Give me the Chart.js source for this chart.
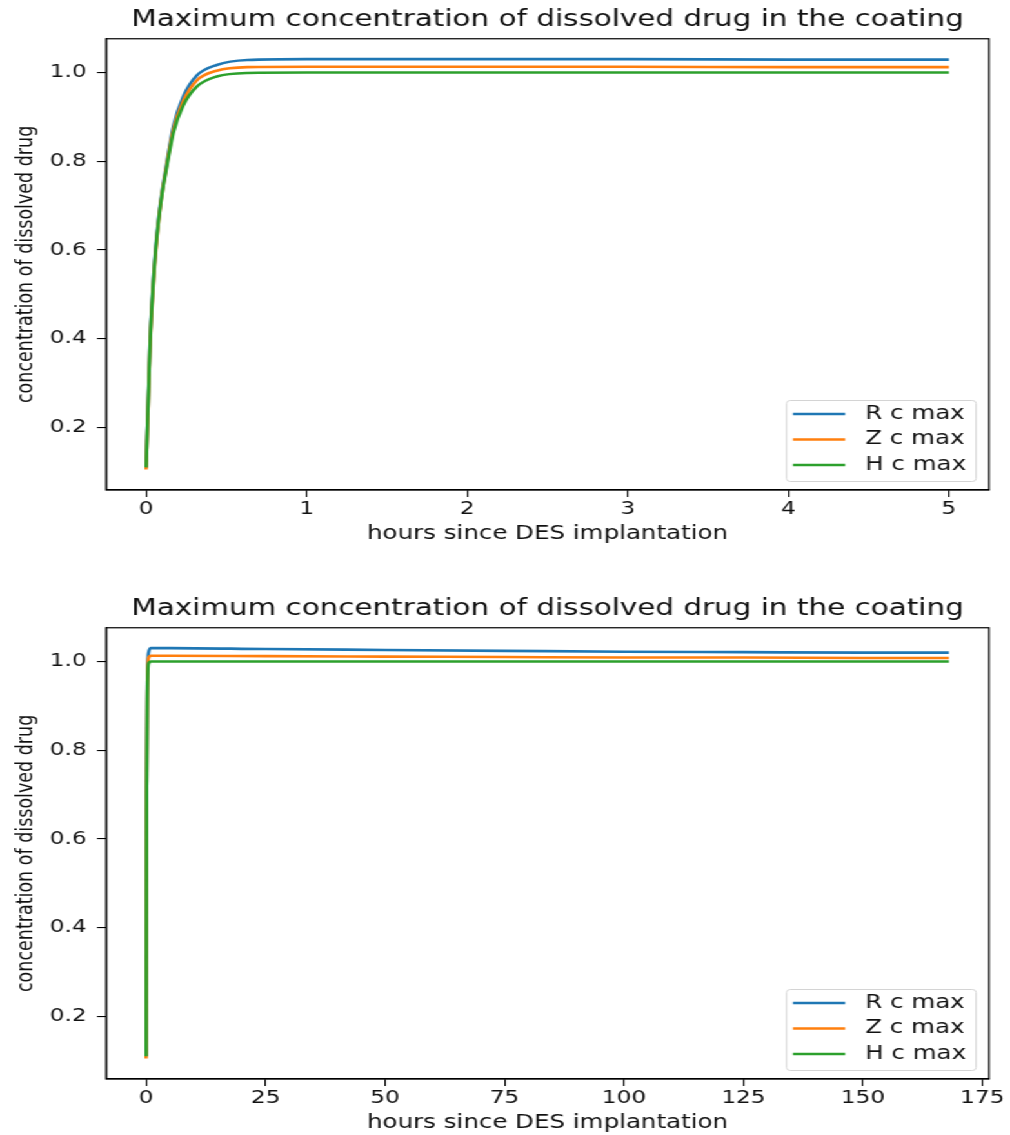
<!DOCTYPE html>
<html>
<head>
<meta charset="utf-8">
<script src="https://cdn.jsdelivr.net/npm/chart.js@4.4.1/dist/chart.umd.min.js"></script>
<style>
  body { margin: 0; background: #fff; }
  /* the reference figure is stretched sideways, so draw narrow and stretch */
  #wrap { width: 783px; height: 1135px; transform: scaleX(1.29); transform-origin: 0 0; }
  canvas { display: block; }
</style>
</head>
<body>
<div id="wrap">
  <canvas id="shortChart" width="783" height="565"></canvas>
  <canvas id="longChart" width="783" height="570"></canvas>
</div>
<script>
// first 5 hours
var hoursShort = [0, 0.025, 0.056, 0.087, 0.13, 0.17, 0.23, 0.315, 0.44, 0.63, 1.0, 2, 3, 4, 5]
var rShort = [0.11, 0.40, 0.59, 0.70, 0.80, 0.88, 0.945, 0.993, 1.017, 1.028, 1.03, 1.03, 1.03, 1.029, 1.029]
var zShort = [0.105, 0.39, 0.58, 0.695, 0.795, 0.872, 0.935, 0.982, 1.004, 1.012, 1.013, 1.013, 1.013, 1.012, 1.012]
var hShort = [0.11, 0.395, 0.585, 0.695, 0.79, 0.865, 0.925, 0.968, 0.991, 0.999, 1.0, 1.0, 1.0, 1.0, 1.0]

// whole week
var hoursLong = [0, 0.1, 0.25, 0.5, 1, 5, 25, 50, 75, 100, 125, 150, 168]
var rLong = [0.11, 0.70, 0.95, 1.02, 1.03, 1.03, 1.028, 1.026, 1.024, 1.022, 1.021, 1.02, 1.02]
var zLong = [0.105, 0.695, 0.94, 1.008, 1.013, 1.013, 1.012, 1.011, 1.01, 1.009, 1.009, 1.008, 1.008]
var hLong = [0.11, 0.695, 0.93, 0.995, 1.0, 1.0, 1.0, 1.0, 1.0, 1.0, 1.0, 1.0, 1.0]

var xTicksShort = [0, 1, 2, 3, 4, 5]
var xTicksLong = [0, 25, 50, 75, 100, 125, 150, 175]
var yTicks = [0.2, 0.4, 0.6, 0.8, 1.0]
var seriesNames = ['R c max', 'Z c max', 'H c max']
var seriesColors = ['#1f77b4', '#ff7f0e', '#2ca02c']

var titleText = 'Maximum concentration of dissolved drug in the coating'
var xTitle = 'hours since DES implantation'
var yTitle = 'concentration of dissolved drug'

Chart.defaults.font.family = "'DejaVu Sans', sans-serif"
Chart.defaults.color = '#111'

// matplotlib style box around the axes
var frame = {
  id: 'frame',
  afterDatasetsDraw(chart) {
    var a = chart.chartArea
    var ctx = chart.ctx
    ctx.save()
    ctx.strokeStyle = '#000'
    ctx.lineWidth = 1.2
    ctx.strokeRect(a.left, a.top, a.right - a.left, a.bottom - a.top)
    ctx.restore()
  },
}

// legend inside the lower right corner
var boxLegend = {
  id: 'boxLegend',
  afterDraw(chart) {
    var a = chart.chartArea
    var ctx = chart.ctx
    var w = 147, h = 81
    var x = a.right - 10 - w
    var y = a.bottom - 8.5 - h
    ctx.save()
    ctx.beginPath()
    ctx.roundRect(x, y, w, h, 3)
    ctx.fillStyle = 'rgba(255,255,255,0.8)'
    ctx.fill()
    ctx.strokeStyle = '#d4d4d4'
    ctx.lineWidth = 1
    ctx.stroke()
    ctx.font = "19px 'DejaVu Sans'"
    ctx.textBaseline = 'middle'
    chart.data.datasets.forEach(function (ds, i) {
      var cy = y + 13.5 + i * 25.5
      ctx.strokeStyle = ds.borderColor
      ctx.lineWidth = 2.6
      ctx.beginPath()
      ctx.moveTo(x + 5, cy)
      ctx.lineTo(x + 45.5, cy)
      ctx.stroke()
      ctx.fillStyle = '#111'
      ctx.fillText(ds.label, x + 61, cy)
    })
    ctx.restore()
  },
}

function makeChart(id, hours, series, xTicks, xMin, xMax, cfg) {
  var ctx = document.getElementById(id).getContext('2d')
  return new Chart(ctx, {
    type: 'line',
    data: {
      datasets: series.map(function (vals, i) {
        return {
          label: seriesNames[i],
          data: hours.map(function (t, j) { return { x: t, y: vals[j] } }),
          borderColor: seriesColors[i],
          backgroundColor: seriesColors[i],
          borderWidth: 2.6,
          pointRadius: 0,
          cubicInterpolationMode: 'monotone',
          order: 3 - i,
        }
      }),
    },
    options: {
      responsive: false,
      animation: false,
      layout: { padding: { top: cfg.top, right: 16.3, left: 0, bottom: 0 } },
      plugins: {
        legend: { display: false },
        tooltip: { enabled: false },
        title: {
          display: true,
          text: titleText,
          fullSize: false,
          color: '#111',
          font: { size: 22.8, weight: 'normal' },
          padding: { top: 6, bottom: 5.4 },
        },
      },
      scales: {
        x: {
          type: 'linear',
          min: xMin,
          max: xMax,
          bounds: 'data',
          afterBuildTicks: function (s) { s.ticks = xTicks.map(function (v) { return { value: v } }) },
          afterFit: function (s) { s.height = cfg.xHeight },
          ticks: { font: { size: 18 }, padding: 2, maxRotation: 0, callback: function (v) { return String(v) } },
          grid: { drawOnChartArea: false, tickLength: 7, color: '#000', lineWidth: 1.1 },
          border: { display: true, color: '#000', width: 1.2 },
          title: { display: true, text: xTitle, font: { size: 19 }, padding: { top: 0, bottom: cfg.xTitlePad } },
        },
        y: {
          min: 0.059,
          max: 1.076,
          bounds: 'data',
          afterBuildTicks: function (s) { s.ticks = yTicks.map(function (v) { return { value: v } }) },
          afterFit: function (s) { s.width = 82.2 },
          ticks: { font: { size: 18 }, padding: 8, callback: function (v) { return v.toFixed(1) } },
          grid: { drawOnChartArea: false, tickLength: 7, color: '#000', lineWidth: 1.1 },
          border: { display: true, color: '#000', width: 1.2 },
          title: { display: true, text: yTitle, font: { size: 17.5 }, padding: { top: 9.5, bottom: 0 } },
        },
      },
    },
    plugins: [frame, boxLegend],
  })
}

makeChart('shortChart', hoursShort, [rShort, zShort, hShort], xTicksShort, -0.25, 5.25,
  { top: 0, xHeight: 75, xTitlePad: 19.8 })
makeChart('longChart', hoursLong, [rLong, zLong, hLong], xTicksLong, -8.4, 176.4,
  { top: 24, xHeight: 56, xTitlePad: 1 })
</script>
</body>
</html>
